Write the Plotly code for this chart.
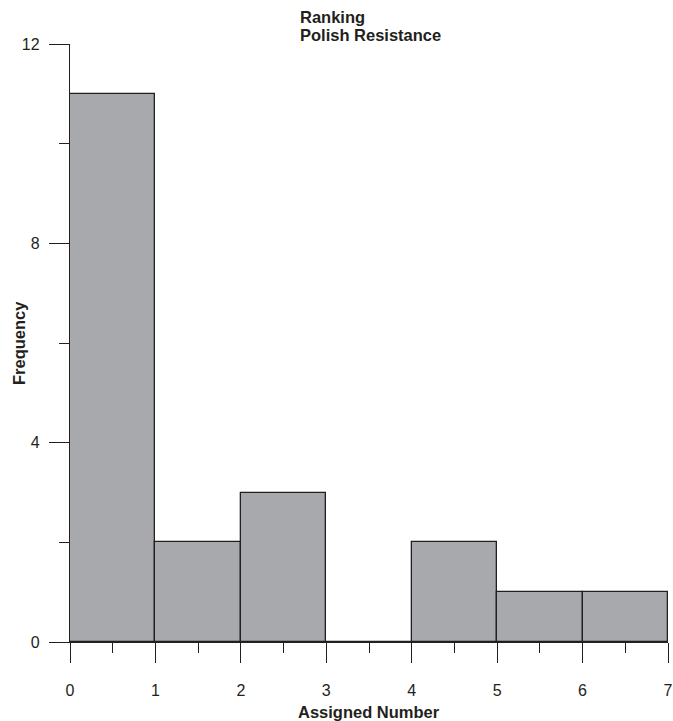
import plotly.graph_objects as go

bin_left = [0, 1, 2, 3, 4, 5, 6]
counts = [11, 2, 3, 0, 2, 1, 1]
x_ticks = [0, 1, 2, 3, 4, 5, 6, 7]
y_ticks = [0, 4, 8, 12]
title_lines = ["Ranking", "Polish Resistance"]

FONT = "Liberation Sans, Arial, Helvetica, sans-serif"
INK = "#231f20"

def py(p):
    return (642 - p) / 598

fig = go.Figure()
fig.add_trace(go.Bar(
    x=[b + 0.5 for b in bin_left],
    y=counts,
    width=[1] * len(bin_left),
    marker=dict(color="#a7a9ac", line=dict(color=INK, width=1.3)),
    showlegend=False,
))

annotations = [
    dict(text="<b>Assigned Number</b>", xref="paper", yref="paper",
         x=0.5, y=0, xanchor="center", yanchor="top", showarrow=False,
         font=dict(size=16.5, color=INK), yshift=-59),
    dict(text="<b>Frequency</b>", xref="paper", yref="paper",
         x=0, y=0.5, xanchor="center", yanchor="middle", textangle=-90,
         showarrow=False, font=dict(size=16.5, color=INK), xshift=-51),
]
for line, ypix in zip(title_lines, [17, 35]):
    annotations.append(dict(
        text=f"<b>{line}</b>", xref="paper", yref="paper",
        x=(298 - 70) / 598, y=py(ypix), xanchor="left", yanchor="middle", align="left",
        showarrow=False, font=dict(size=16.5, color=INK)))

fig.update_layout(
    width=673, height=721,
    margin=dict(l=70, r=5, t=44, b=79, autoexpand=False),
    plot_bgcolor="white", paper_bgcolor="white",
    font=dict(family=FONT, size=16, color=INK),
    bargap=0,
    xaxis=dict(
        range=[0, 7], tickvals=x_ticks, ticks="outside", ticklen=20, tickwidth=1.2,
        tickcolor=INK, showline=True, linecolor=INK, linewidth=1.3, automargin=False,
        showgrid=False, zeroline=False, ticklabelstandoff=14,
        minor=dict(dtick=0.5, ticks="outside", ticklen=10, tickwidth=1.2, tickcolor=INK, showgrid=False),
    ),
    yaxis=dict(
        range=[0, 12], tickvals=y_ticks, ticks="outside", ticklen=20, tickwidth=1.2,
        tickcolor=INK, showline=True, linecolor=INK, linewidth=1.3, automargin=False,
        showgrid=False, zeroline=False, ticklabelstandoff=6,
        minor=dict(dtick=2, ticks="outside", ticklen=10, tickwidth=1.2, tickcolor=INK, showgrid=False),
    ),
    annotations=annotations,
)

fig.write_html("out.html")
